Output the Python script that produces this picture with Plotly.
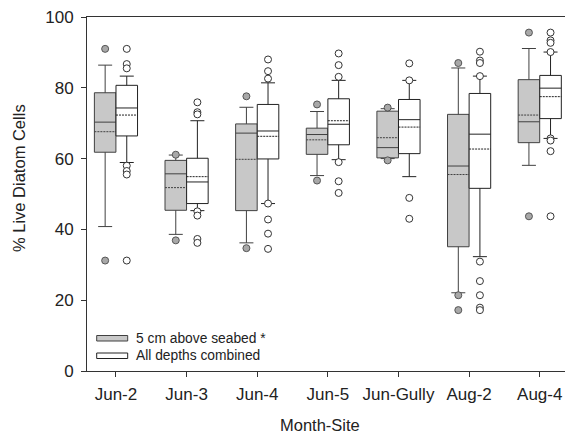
import plotly.graph_objects as go

categories = ["Jun-2", "Jun-3", "Jun-4", "Jun-5", "Jun-Gully", "Aug-2", "Aug-4"]

# 5 cm above seabed
g_low = [40.8, 38.6, 36.2, 55.2, 60.0, 22.1, 58.1]
g_q1 = [61.8, 45.4, 45.3, 61.2, 60.2, 35.1, 64.5]
g_med = [70.3, 55.7, 67.2, 66.8, 63.1, 57.9, 70.4]
g_q3 = [78.6, 59.5, 69.8, 68.6, 73.4, 72.5, 82.3]
g_high = [86.4, 61.0, 74.5, 73.3, 74.1, 85.6, 91.1]
g_mean = [67.6, 51.8, 59.8, 65.3, 65.9, 55.5, 72.3]
g_out = [
    [91.0, 31.2],
    [61.1, 36.9],
    [77.6, 34.7],
    [75.3, 53.8],
    [74.4, 59.5],
    [87.0, 21.4, 17.2],
    [95.6, 43.7],
]

# All depths combined
w_low = [58.9, 45.3, 47.3, 59.7, 54.9, 32.3, 65.7]
w_q1 = [66.4, 47.3, 59.9, 63.9, 61.4, 51.6, 71.3]
w_med = [74.3, 53.4, 67.8, 69.7, 71.0, 66.9, 79.9]
w_q3 = [80.7, 60.1, 75.3, 76.9, 76.7, 78.4, 83.5]
w_high = [83.3, 70.7, 81.4, 82.1, 82.1, 83.3, 90.1]
w_mean = [72.3, 54.9, 66.3, 70.7, 68.9, 62.7, 77.5]
w_out = [
    [91.0, 86.7, 85.5, 58.0, 56.5, 55.5, 31.2],
    [75.9, 73.1, 72.5, 45.1, 43.9, 37.3, 36.2],
    [88.0, 84.7, 82.6, 47.3, 42.8, 38.8, 34.5],
    [89.7, 86.4, 83.1, 59.0, 53.6, 50.3],
    [86.9, 82.1, 48.9, 43.0],
    [90.2, 87.7, 87.0, 83.3, 30.9, 25.4, 21.4, 17.9, 17.2],
    [95.6, 93.4, 92.7, 90.1, 65.7, 65.1, 62.1, 43.7],
]

y_ticks = [0, 20, 40, 60, 80, 100]

OFF = 0.153
BW = 0.305
idx = list(range(len(categories)))

FONT = "Liberation Sans, Arial, sans-serif"
TXT = "#222222"

fig = go.Figure()

fig.add_trace(go.Box(
    x=[i - OFF for i in idx], q1=g_q1, median=g_med, q3=g_q3,
    lowerfence=g_low, upperfence=g_high, mean=g_mean,
    boxmean=True, boxpoints=False, width=BW, whiskerwidth=0.65,
    fillcolor="#c8c8c8", line=dict(color="#404040", width=1),
    name="5 cm above seabed *", showlegend=False, hoverinfo="skip",
))
fig.add_trace(go.Box(
    x=[i + OFF for i in idx], q1=w_q1, median=w_med, q3=w_q3,
    lowerfence=w_low, upperfence=w_high, mean=w_mean,
    boxmean=True, boxpoints=False, width=BW, whiskerwidth=0.65,
    fillcolor="#ffffff", line=dict(color="#222222", width=1),
    name="All depths combined", showlegend=False, hoverinfo="skip",
))

gx, gy = [], []
for i, vals in enumerate(g_out):
    for v in vals:
        gx.append(i - OFF)
        gy.append(v)
wx, wy = [], []
for i, vals in enumerate(w_out):
    for v in vals:
        wx.append(i + OFF)
        wy.append(v)

fig.add_trace(go.Scatter(
    x=gx, y=gy, mode="markers",
    marker=dict(size=7, color="#a8a8a8", line=dict(color="#555555", width=1)),
    showlegend=False, hoverinfo="skip",
))
fig.add_trace(go.Scatter(
    x=wx, y=wy, mode="markers",
    marker=dict(size=7, color="#ffffff", line=dict(color="#333333", width=1)),
    showlegend=False, hoverinfo="skip",
))

# figure is slightly wider than the window so the plot frame runs off the right edge
W, H = 573, 434
L, R, T, B = 87, 0, 17, 63
pw, ph = W - L - R, H - T - B
PX_PER_CAT = 70.63
x_lo = -0.41
x_hi = x_lo + pw / PX_PER_CAT


def px(x):
    return (x - L) / pw


def py(y):
    return (H - B - y) / ph


shapes = [
    dict(type="rect", xref="paper", yref="paper",
         x0=px(96.7), x1=px(127.7), y0=py(341), y1=py(335.5),
         fillcolor="#c8c8c8", line=dict(color="#404040", width=1)),
    dict(type="rect", xref="paper", yref="paper",
         x0=px(96.7), x1=px(127.7), y0=py(358.5), y1=py(353),
         fillcolor="#ffffff", line=dict(color="#222222", width=1)),
]
annotations = [
    dict(text="5 cm above seabed *", xref="paper", yref="paper",
         x=px(133.5), y=py(338.3), xanchor="left", yanchor="middle",
         showarrow=False, font=dict(family=FONT, size=13.8, color=TXT)),
    dict(text="All depths combined", xref="paper", yref="paper",
         x=px(133.5), y=py(355.7), xanchor="left", yanchor="middle",
         showarrow=False, font=dict(family=FONT, size=13.8, color=TXT)),
    dict(text="% Live Diatom Cells", xref="paper", yref="paper",
         x=px(19), y=py(178), xanchor="center", yanchor="middle", textangle=-90,
         showarrow=False, font=dict(family=FONT, size=16.5, color=TXT)),
    dict(text="Month-Site", xref="paper", yref="paper",
         x=px(320), y=py(425), xanchor="center", yanchor="middle",
         showarrow=False, font=dict(family=FONT, size=16.5, color=TXT)),
]

fig.update_layout(
    width=W, height=H,
    margin=dict(l=L, r=R, t=T, b=B, pad=0),
    paper_bgcolor="white", plot_bgcolor="white",
    boxmode="overlay",
    showlegend=False,
    shapes=shapes, annotations=annotations,
    font=dict(family=FONT, size=16, color=TXT),
)
fig.update_xaxes(
    range=[x_lo, x_hi], tickmode="array", tickvals=idx, ticktext=categories,
    showgrid=False, zeroline=False, showline=True, linecolor="#333333", linewidth=1,
    mirror=True, ticks="outside", ticklen=5, tickcolor="#333333",
    ticklabelstandoff=3,
    tickfont=dict(family=FONT, size=17, color=TXT),
)
fig.update_yaxes(
    range=[0, 100], tickmode="array", tickvals=y_ticks,
    showgrid=False, zeroline=False, showline=True, linecolor="#333333", linewidth=1,
    ticks="outside", ticklen=5, tickcolor="#333333",
    ticklabelstandoff=4,
    tickfont=dict(family=FONT, size=17, color=TXT),
)

fig.write_html(
    "out.html",
    config={"displayModeBar": False},
    post_script="document.body.style.margin='0px';document.body.style.overflow='hidden';",
)
